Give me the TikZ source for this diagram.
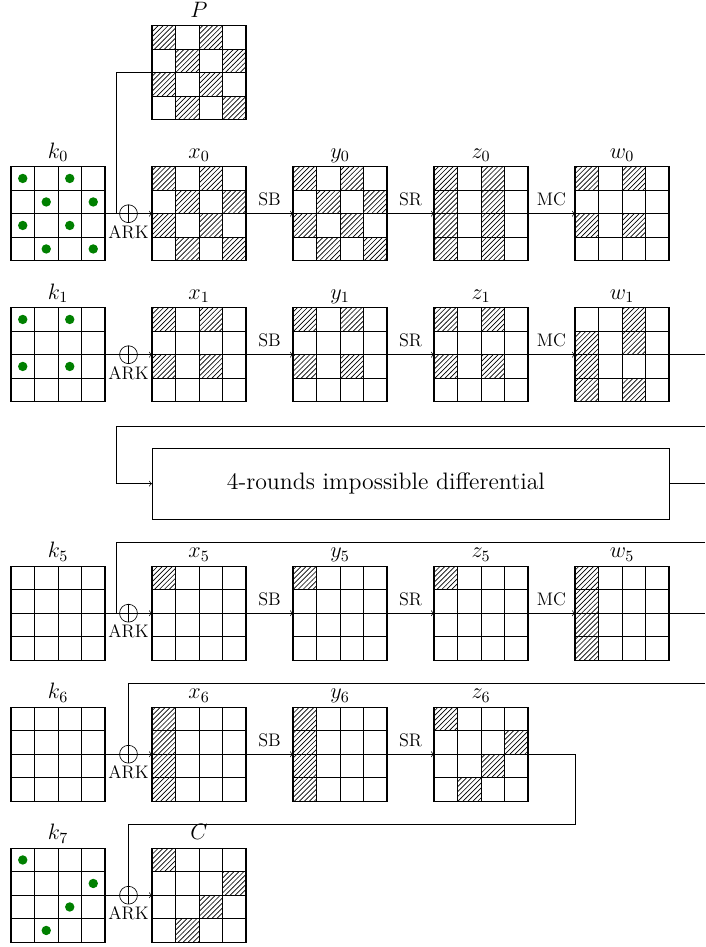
\RequirePackage{fix-cm}
\documentclass[tikz,border=0pt]{standalone}
\usetikzlibrary{patterns,calc}
\tikzset{
  gridbox/.style={minimum size=2cm, inner sep=0pt, outer sep=0pt, draw=none},
  lbl/.style={anchor=base, font=\fontsize{13.5}{16}\selectfont},
  oplabel/.style={anchor=base, font=\fontsize{11}{13}\selectfont},
  xorn/.style={circle, draw, minimum size=0.38cm, inner sep=0pt, outer sep=0pt},
  arr/.style={->, line width=0.4pt},
  conn/.style={line width=0.4pt},
  dot/.style={fill=green!50!black},
  hatchf/.style={pattern=north east lines},
  outer/.style={line width=0.7pt},
}
\newcommand{\mystate}[4]{%
  \node[gridbox, anchor=north west] (#1) at (#2,-#3) {};
  \node[lbl] (#1l) at ($(#1.north)+(0,0.18)$) {#4};
}
\newcommand{\myhatch}[2]{\foreach \c/\r in {#2} {\fill[hatchf] ($(#1.north west)+(0.5*\c,-0.5*\r)$) rectangle ++(0.5,-0.5);}}
\newcommand{\mydots}[2]{\foreach \c/\r in {#2} {\fill[dot] ($(#1.north west)+(0.5*\c+0.25,-0.5*\r-0.25)$) circle (0.1);}}
\newcommand{\mygrid}[1]{\foreach \i in {1,2,3} {\draw[conn] ($(#1.north west)+(0.5*\i,0)$) -- ++(0,-2); \draw[conn] ($(#1.north west)+(0,-0.5*\i)$) -- ++(2,0);}\draw[outer] (#1.north west) rectangle (#1.south east);}
\newcommand{\myxor}[2]{%
  \node[xorn] (#1) at (2.734,#2) {};
  \draw[conn] (#1.north) -- (#1.south);
  \draw[conn] (#1.west) -- (#1.east);
  \node[oplabel] (#1a) at ($(#1)+(0,-0.52)$) {ARK};
}
\begin{document}
\begin{tikzpicture}
\useasboundingbox (0,0) rectangle (15,-20.149);
% ---------------- states ----------------
\mystate{P}{3.234}{0.547}{$P$}
\mystate{k0}{0.234}{3.547}{$k_0$}
\mystate{x0}{3.234}{3.547}{$x_0$}
\mystate{y0}{6.234}{3.547}{$y_0$}
\mystate{z0}{9.234}{3.547}{$z_0$}
\mystate{w0}{12.234}{3.547}{$w_0$}
\mystate{k1}{0.234}{6.547}{$k_1$}
\mystate{x1}{3.234}{6.547}{$x_1$}
\mystate{y1}{6.234}{6.547}{$y_1$}
\mystate{z1}{9.234}{6.547}{$z_1$}
\mystate{w1}{12.234}{6.547}{$w_1$}
\mystate{k5}{0.234}{12.047}{$k_5$}
\mystate{x5}{3.234}{12.047}{$x_5$}
\mystate{y5}{6.234}{12.047}{$y_5$}
\mystate{z5}{9.234}{12.047}{$z_5$}
\mystate{w5}{12.234}{12.047}{$w_5$}
\mystate{k6}{0.234}{15.047}{$k_6$}
\mystate{x6}{3.234}{15.047}{$x_6$}
\mystate{y6}{6.234}{15.047}{$y_6$}
\mystate{z6}{9.234}{15.047}{$z_6$}
\mystate{k7}{0.234}{18.047}{$k_7$}
\mystate{C}{3.234}{18.047}{$C$}
% ---------------- xor nodes ----------------
\myxor{o0}{-4.547}
\myxor{o1}{-7.547}
\myxor{o5}{-13.047}
\myxor{o6}{-16.047}
\myxor{o7}{-19.047}
% ---------------- hatching ----------------
\myhatch{P}{0/0,2/0,1/1,3/1,0/2,2/2,1/3,3/3}
\myhatch{x0}{0/0,2/0,1/1,3/1,0/2,2/2,1/3,3/3}
\myhatch{y0}{0/0,2/0,1/1,3/1,0/2,2/2,1/3,3/3}
\myhatch{z0}{0/0,0/1,0/2,0/3,2/0,2/1,2/2,2/3}
\myhatch{w0}{0/0,2/0,0/2,2/2}
\myhatch{x1}{0/0,2/0,0/2,2/2}
\myhatch{y1}{0/0,2/0,0/2,2/2}
\myhatch{z1}{0/0,2/0,0/2,2/2}
\myhatch{w1}{2/0,0/1,2/1,0/2,0/3,2/3}
\myhatch{x5}{0/0}
\myhatch{y5}{0/0}
\myhatch{z5}{0/0}
\myhatch{w5}{0/0,0/1,0/2,0/3}
\myhatch{x6}{0/0,0/1,0/2,0/3}
\myhatch{y6}{0/0,0/1,0/2,0/3}
\myhatch{z6}{0/0,3/1,2/2,1/3}
\myhatch{C}{0/0,3/1,2/2,1/3}
% ---------------- key dots ----------------
\mydots{k0}{0/0,2/0,1/1,3/1,0/2,2/2,1/3,3/3}
\mydots{k1}{0/0,2/0,0/2,2/2}
\mydots{k7}{0/0,3/1,2/2,1/3}
% ---------------- connectors ----------------
% row 0
\coordinate (p0) at (2.468,-4.547);
\draw[conn] (P.west) -| (p0);
\draw[conn] (k0.east) -- (o0.west);
\draw[arr] (o0.east) -- (x0.west);
\draw[arr] (x0.east) -- node[oplabel, midway, yshift=0.17cm] (sb0) {SB} (y0.west);
\draw[arr] (y0.east) -- node[oplabel, midway, yshift=0.17cm] (sr0) {SR} (z0.west);
\draw[arr] (z0.east) -- node[oplabel, midway, yshift=0.17cm] (mc0) {MC} (w0.west);
% row 1
\draw[conn] (k1.east) -- (o1.west);
\draw[arr] (o1.east) -- (x1.west);
\draw[arr] (x1.east) -- node[oplabel, midway, yshift=0.17cm] (sb1) {SB} (y1.west);
\draw[arr] (y1.east) -- node[oplabel, midway, yshift=0.17cm] (sr1) {SR} (z1.west);
\draw[arr] (z1.east) -- node[oplabel, midway, yshift=0.17cm] (mc1) {MC} (w1.west);
\coordinate (e1) at (15,-7.547);
\draw[conn] (w1.east) -- (e1);
% middle box
\node[draw, line width=0.4pt, minimum width=11cm, minimum height=1.505cm, inner sep=0pt, anchor=west] (box) at (3.234,-10.29) {};
\node[font=\fontsize{14.4}{17}\selectfont] (boxt) at (8.21,-10.29) {4-rounds impossible differential};
\coordinate (bin1) at (15,-9.064);
\coordinate (bin2) at (2.48,-9.064);
\draw[arr] (bin1) -- (bin2) |- (box.west);
\coordinate (bout) at (15,-10.29);
\draw[conn] (box.east) -- (bout);
% row 5
\coordinate (t5a) at (15,-11.547);
\coordinate (t5b) at (2.468,-11.547);
\draw[conn] (t5a) -- (t5b) |- (o5.west);
\draw[conn] (k5.east) -- (o5.west);
\draw[arr] (o5.east) -- (x5.west);
\draw[arr] (x5.east) -- node[oplabel, midway, yshift=0.17cm] (sb5) {SB} (y5.west);
\draw[arr] (y5.east) -- node[oplabel, midway, yshift=0.17cm] (sr5) {SR} (z5.west);
\draw[arr] (z5.east) -- node[oplabel, midway, yshift=0.17cm] (mc5) {MC} (w5.west);
\coordinate (e5) at (15,-13.047);
\draw[conn] (w5.east) -- (e5);
% row 6
\coordinate (t6a) at (15,-14.547);
\draw[conn] (t6a) -| (o6.north);
\draw[conn] (k6.east) -- (o6.west);
\draw[arr] (o6.east) -- (x6.west);
\draw[arr] (x6.east) -- node[oplabel, midway, yshift=0.17cm] (sb6) {SB} (y6.west);
\draw[arr] (y6.east) -- node[oplabel, midway, yshift=0.17cm] (sr6) {SR} (z6.west);
\coordinate (c6a) at (12.234,-17.547);
\draw[conn] (z6.east) -| (c6a) -| (o7.north);
% row 7
\draw[conn] (k7.east) -- (o7.west);
\draw[arr] (o7.east) -- (C.west);
% ---------------- grid lines on top ----------------
\foreach \n in {P,k0,x0,y0,z0,w0,k1,x1,y1,z1,w1,k5,x5,y5,z5,w5,k6,x6,y6,z6,k7,C} {\mygrid{\n}}
\end{tikzpicture}
\end{document}
